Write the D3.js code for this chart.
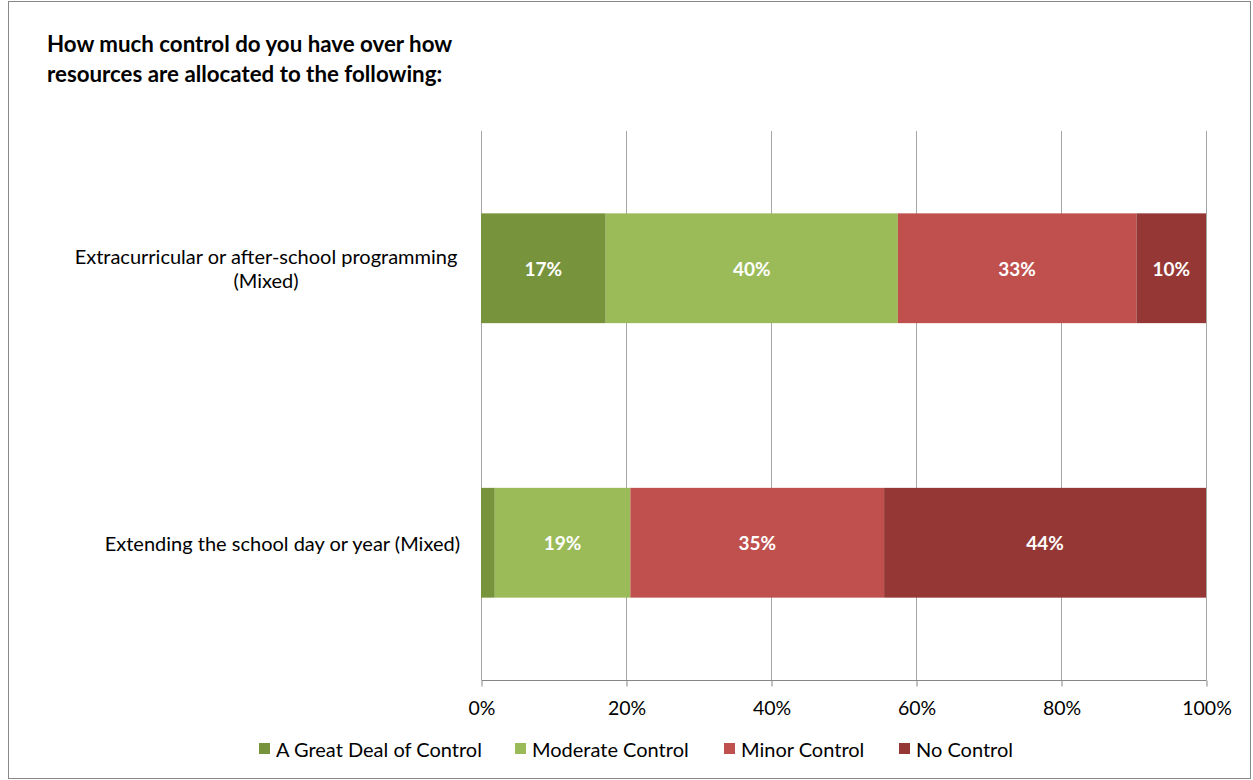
<!DOCTYPE html>
<html><head><meta charset="utf-8">
<script src="https://cdn.jsdelivr.net/npm/d3@7/dist/d3.min.js"></script>
<style>body{margin:0;background:#fff}svg{display:block;font-family:Lato,"Open Sans",sans-serif}</style>
</head><body><svg id="c" width="1253" height="780"></svg>
<script>
const categories = ["Extracurricular or after-school programming (Mixed)", "Extending the school day or year (Mixed)"];
const categoryLines = [["Extracurricular or after-school programming", "(Mixed)"], ["Extending the school day or year (Mixed)"]];
const seriesNames = ["A Great Deal of Control", "Moderate Control", "Minor Control", "No Control"];
const greatDeal = [17.2, 1.9];
const moderate = [40.3, 18.7];
const minor = [32.9, 35.0];
const noControl = [9.6, 44.4];
const tickValues = [0, 20, 40, 60, 80, 100];
const colors = ["#77933C", "#9BBB59", "#C0504D", "#953735"];
const title = ["How much control do you have over how", "resources are allocated to the following:"];

const svg = d3.select("#c");
svg.append("rect").attr("x", 8.5).attr("y", 1.5).attr("width", 1242).attr("height", 777)
  .attr("fill", "#fff").attr("stroke", "#888").attr("stroke-width", 1);

const m = {left: 481, right: 1206, top: 131, bottom: 680};
const x = d3.scaleLinear().domain([0, 100]).range([m.left, m.right]);
const y = d3.scaleBand().domain(categories).range([m.top, m.bottom]).paddingInner(0.6).paddingOuter(0.3);

// gridlines
svg.append("g").selectAll("line").data(tickValues).join("line")
  .attr("x1", d => x(d) + 0.5).attr("x2", d => x(d) + 0.5)
  .attr("y1", m.top).attr("y2", m.bottom)
  .attr("stroke", "#a6a6a6").attr("stroke-width", 1);

const rows = categories.map((c, i) => ({cat: c, vals: [greatDeal[i], moderate[i], minor[i], noControl[i]]}));
const stack = d3.stack().keys([0, 1, 2, 3]).value((d, k) => d.vals[k]);
const layers = stack(rows);

const g = svg.append("g");
layers.forEach((layer, k) => {
  layer.forEach(seg => {
    const x0 = x(seg[0]), x1 = x(seg[1]);
    g.append("rect").attr("x", x0).attr("y", y(seg.data.cat))
      .attr("width", x1 - x0).attr("height", y.bandwidth()).attr("fill", colors[k]);
    const v = seg[1] - seg[0];
    if (v >= 5) {
      g.append("text").attr("x", (x0 + x1) / 2).attr("y", y(seg.data.cat) + y.bandwidth() / 2)
        .attr("text-anchor", "middle").attr("dominant-baseline", "central")
        .attr("fill", "#fff").attr("font-weight", "bold").attr("font-size", 19)
        .text(Math.round(v) + "%");
    }
  });
});

// x axis
const xAxis = d3.axisBottom(x).tickValues(tickValues).tickFormat(d => d + "%").tickSize(6).tickPadding(15);
const ax = svg.append("g").attr("transform", `translate(0.5,${m.bottom + 0.5})`).call(xAxis);
ax.select(".domain").attr("stroke", "#868686").attr("d", `M${m.left},0H${m.right}`);
ax.selectAll(".tick line").attr("stroke", "#868686");
ax.selectAll(".tick text").attr("font-size", 19.5).attr("fill", "#000").attr("font-family", "Lato");

// category labels
categories.forEach((c, i) => {
  const lines = categoryLines[i];
  const cy = y(c) + y.bandwidth() / 2;
  const lh = 24;
  const t = svg.append("text").attr("font-size", 20).attr("fill", "#000");
  if (lines.length === 1) {
    t.append("tspan").attr("x", 460).attr("y", cy).attr("text-anchor", "end")
      .attr("dominant-baseline", "central").text(lines[0]);
  } else {
    const w = 388;
    lines.forEach((l, j) => {
      t.append("tspan").attr("x", 460 - w / 2).attr("y", cy + (j - (lines.length - 1) / 2) * lh)
        .attr("text-anchor", "middle").attr("dominant-baseline", "central").text(l);
    });
  }
});

// title
svg.append("g").selectAll("text").data(title).join("text")
  .attr("x", 47).attr("y", (d, i) => 52 + i * 30)
  .attr("font-size", 22.3).attr("font-weight", "bold").attr("fill", "#000").text(d => d);

// legend
const legendX = [259, 515, 724, 899];
const lg = svg.append("g");
seriesNames.forEach((n, i) => {
  lg.append("rect").attr("x", legendX[i]).attr("y", 743).attr("width", 11).attr("height", 11).attr("fill", colors[i]);
  lg.append("text").attr("x", legendX[i] + 17).attr("y", 749).attr("dominant-baseline", "central")
    .attr("font-size", 20).attr("fill", "#000").text(n);
});
</script></body></html>
